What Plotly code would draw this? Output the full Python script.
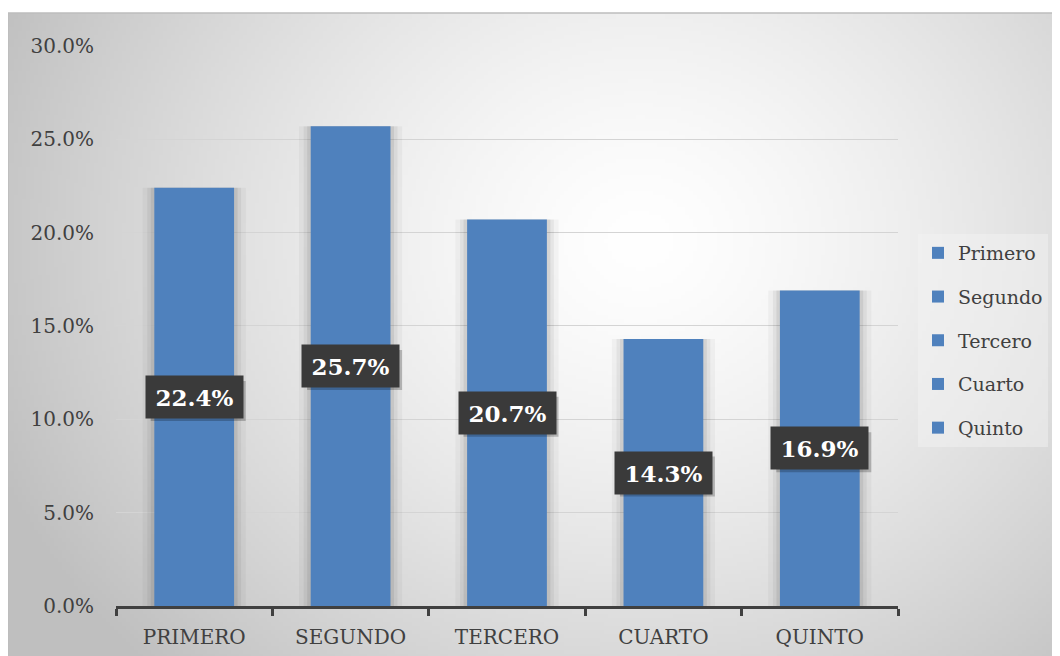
import base64, struct, zlib
import numpy as np
import plotly.graph_objects as go

categories = ["PRIMERO", "SEGUNDO", "TERCERO", "CUARTO", "QUINTO"]
legend_names = ["Primero", "Segundo", "Tercero", "Cuarto", "Quinto"]
values = [0.224, 0.257, 0.207, 0.143, 0.169]
label_texts = ["22.4%", "25.7%", "20.7%", "14.3%", "16.9%"]

OFF = 8  # page body margin
W, H = 1060 - OFF, 656 - OFF
ML, MT = 116 - OFF, 45 - OFF
MR = W - (898 - OFF)
MB = H - (606 - OFF)
PW, PH = W - ML - MR, H - MT - MB

def px_to_paper_x(px):
    return (px - OFF - ML) / PW

def px_to_paper_y(py):
    return (H - MB - (py - OFF)) / PH

# radial gradient background as PNG (page coords)
gw, gh = 263, 163
x0, y0 = 8, 13
x1, y1 = 1064, 664
xs = x0 + (np.arange(gw) + 0.5) * (x1 - x0) / gw
ys = y0 + (np.arange(gh) + 0.5) * (y1 - y0) / gh
X, Y = np.meshgrid(xs, ys)
d = np.sqrt((X - 640) ** 2 + ((Y - 240) * 1.15) ** 2)
t = np.clip(d / 700, 0, 1)
val = (255 - 64 * t ** 1.4).astype(np.uint8)
raw = b"".join(b"\x00" + bytes(np.repeat(row, 3)) for row in val)
def chunk(tag, data):
    c = struct.pack(">I", len(data)) + tag + data
    return c + struct.pack(">I", zlib.crc32(tag + data) & 0xffffffff)
png = b"\x89PNG\r\n\x1a\n" + chunk(b"IHDR", struct.pack(">IIBBBBB", gw, gh, 8, 2, 0, 0, 0)) \
    + chunk(b"IDAT", zlib.compress(raw, 9)) + chunk(b"IEND", b"")
src = "data:image/png;base64," + base64.b64encode(png).decode()

FONT = "DejaVu Serif"
BLUE = "#4f81bd"

fig = go.Figure()
# soft shadows behind bars
for wdt, op in [(0.66, 0.035), (0.6, 0.05), (0.555, 0.07)]:
    fig.add_trace(go.Bar(x=categories, y=values, width=wdt, showlegend=False,
                         marker=dict(color=f"rgba(0,0,0,{op})", line=dict(width=0)),
                         hoverinfo="skip"))
for i, (c, v, n) in enumerate(zip(categories, values, legend_names)):
    fig.add_trace(go.Bar(x=[c], y=[v], name=n, width=0.51, legendgroup=n,
                         marker=dict(color=BLUE, line=dict(width=0))))

for c, v, lt in zip(categories, values, label_texts):
    # drop shadow of the label box
    fig.add_shape(type="rect", xref="x", yref="y", xsizemode="pixel", ysizemode="pixel",
                  xanchor=c, yanchor=v / 2, x0=-47.5 + 4, x1=47.5 + 4, y0=-20 - 4, y1=20 - 4,
                  fillcolor="rgba(0,0,0,0.22)", line=dict(width=0), layer="above")
    fig.add_annotation(x=c, y=v / 2, text=f"<b>{lt}</b>", showarrow=False, width=95, height=40,
                       bgcolor="#3a3a3a", font=dict(family=FONT, size=23, color="white"))

fig.add_layout_image(source=src, xref="paper", yref="paper",
                     x=px_to_paper_x(x0), y=px_to_paper_y(y0),
                     sizex=(x1 - x0) / PW, sizey=(y1 - y0) / PH,
                     sizing="stretch", xanchor="left", yanchor="top", layer="below")
fig.add_shape(type="rect", xref="paper", yref="paper",
              x0=px_to_paper_x(x0), y0=px_to_paper_y(664), x1=px_to_paper_x(1064), y1=px_to_paper_y(y0),
              line=dict(color="#bdbdbd", width=1.5), layer="below")

fig.update_layout(
    width=W, height=H, margin=dict(l=ML, r=MR, t=MT, b=MB, autoexpand=False),
    paper_bgcolor="white", plot_bgcolor="rgba(0,0,0,0)",
    barmode="overlay", bargap=0.49,
    font=dict(family=FONT, color="#404040"),
    showlegend=True,
    legend=dict(x=px_to_paper_x(918), y=px_to_paper_y(234), xanchor="left", yanchor="top",
                bgcolor="rgba(245,245,245,0.45)", font=dict(family=FONT, size=19, color="#404040"),
                tracegroupgap=16, itemwidth=30, traceorder="grouped"),
)
fig.update_xaxes(showline=True, linecolor="#404040", linewidth=3, ticks="outside",
                 tickson="boundaries", ticklen=7, tickwidth=3, tickcolor="#404040",
                 ticklabelstandoff=11, automargin=False,
                 tickfont=dict(family=FONT, size=20, color="#404040"), showgrid=False)
fig.update_yaxes(range=[0, 0.3005], tickvals=[0, 0.05, 0.10, 0.15, 0.20, 0.25, 0.30],
                 tickformat=".1%", showgrid=True, automargin=False,
                 gridcolor="#d4d4d4", gridwidth=1, zeroline=False, showline=False,
                 ticks="outside", ticklen=17, tickcolor="rgba(0,0,0,0)",
                 tickfont=dict(family=FONT, size=20, color="#404040"))

fig.write_html("out.html")
